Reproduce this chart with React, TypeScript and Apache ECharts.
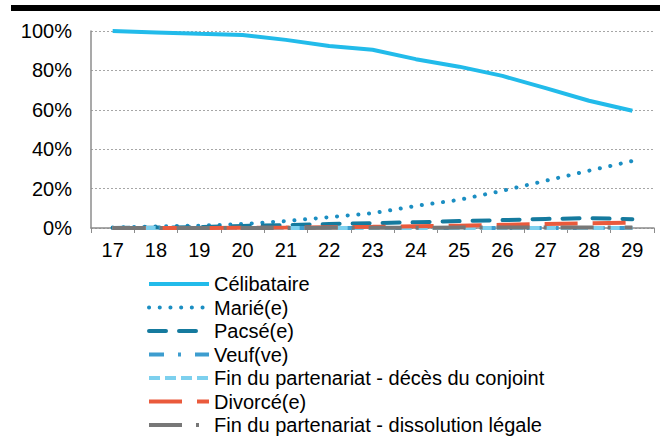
import React, { useEffect, useRef } from "react";
import * as echarts from "echarts";

const categories = ["17", "18", "19", "20", "21", "22", "23", "24", "25", "26", "27", "28", "29"];
const celibataire = [100, 99.3, 98.6, 98, 95.5, 92.4, 90.5, 85.7, 81.9, 77.2, 71, 64.6, 59.5];
const marie = [0.3, 0.8, 1.2, 2.0, 3.5, 5.5, 7.5, 11.2, 14.3, 18.9, 24, 29.1, 34];
const pacse = [0, 0.2, 0.5, 1.0, 1.5, 2.0, 2.5, 2.9, 3.5, 4.0, 4.6, 5.0, 4.5];
const veuf = [0, 0, 0, 0, 0, 0, 0, 0, 0, 0, 0, 0, 0];
const finDeces = [0, 0, 0, 0, 0, 0, 0, 0, 0, 0, 0, 0, 0];
const divorce = [0, 0, 0.05, 0.1, 0.2, 0.4, 0.6, 0.9, 1.2, 1.6, 2.0, 2.4, 2.7];
const finDissolution = [0, 0, 0, 0, 0, 0.1, 0.1, 0.1, 0.2, 0.2, 0.2, 0.2, 0.2];
const yTicks = [0, 20, 40, 60, 80, 100];

const FONT = '"Liberation Sans", Arial, sans-serif';

export default function App() {
  const ref = useRef<HTMLDivElement>(null);
  useEffect(() => {
    if (!ref.current) return;
    const chart = echarts.init(ref.current, undefined, { renderer: "svg" });
    const mk = (name: string, data: number[], color: string, type: any, cap: any = "butt") => ({
      name,
      type: "line",
      data,
      symbol: "none",
      showSymbol: false,
      lineStyle: { color, width: 4, type, cap },
      itemStyle: { color },
      emphasis: { disabled: true },
    });
    chart.setOption({
      animation: false,
      textStyle: { fontFamily: FONT },
      graphic: [
        { type: "rect", shape: { x: 11, y: 5, width: 649, height: 6 }, style: { fill: "#000" } },
      ],
      grid: { left: 91, right: 6, top: 31, bottom: 209, containLabel: false },
      xAxis: {
        type: "category",
        data: categories,
        boundaryGap: true,
        axisLine: { lineStyle: { color: "#8c8c8c", width: 1.5 } },
        axisTick: { show: true, length: 5, lineStyle: { color: "#8c8c8c", width: 1 } },
        axisLabel: { color: "#000", fontSize: 20, margin: 12, fontFamily: FONT },
        splitLine: { show: false },
      },
      yAxis: {
        type: "value",
        min: yTicks[0],
        max: yTicks[yTicks.length - 1],
        interval: 20,
        axisLine: { show: true, lineStyle: { color: "#8c8c8c", width: 1.5 } },
        axisTick: { show: false },
        axisLabel: { color: "#000", fontSize: 20, margin: 19, fontFamily: FONT, formatter: "{value}%" },
        splitLine: { show: true, lineStyle: { color: "#a6a6a6", width: 1, type: [2, 2] } },
      },
      legend: {
        orient: "vertical",
        left: 147,
        top: 274,
        padding: 0,
        itemWidth: 60,
        itemHeight: 14,
        itemGap: 3.5,
        textStyle: { color: "#000", fontSize: 20, lineHeight: 20, fontFamily: FONT, padding: [0, 0, 0, 0] },
        itemStyle: { color: "rgba(0,0,0,0)", borderWidth: 0, opacity: 0 },
        lineStyle: { width: 4 },
        selectedMode: false,
      },
      series: [
        mk("Célibataire", celibataire, "#22bbea", "solid"),
        mk("Marié(e)", marie, "#1b8ec2", [0.1, 10.6], "round"),
        mk("Pacsé(e)", pacse, "#157a9e", [17, 13], "round"),
        mk("Veuf(ve)", veuf, "#3d9dcf", [15, 14, 3, 14]),
        mk("Fin du partenariat - décès du conjoint", finDeces, "#7dd0ee", [11, 5]),
        mk("Divorcé(e)", divorce, "#ea5a3c", [33, 15]),
        mk("Fin du partenariat - dissolution légale", finDissolution, "#777777", [33, 14, 3, 14]),
      ],
    });
    return () => chart.dispose();
  }, []);
  return (
    <div
      ref={ref}
      style={{ position: "fixed", left: 0, top: 0, width: 660, height: 437, background: "#fff" }}
    />
  );
}
